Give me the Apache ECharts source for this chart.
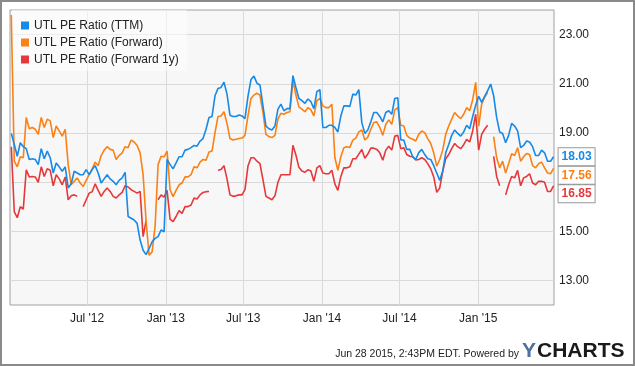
<!DOCTYPE html>
<html><head><meta charset="utf-8">
<script src="https://cdn.jsdelivr.net/npm/echarts@6/dist/echarts.min.js"></script>
<style>html,body{margin:0;padding:0;background:#fff}#c{width:635px;height:366px}</style>
</head><body><div id="c"></div>
<script>
// Weekly observations, first one on 2012-01-06
const firstWeek = '2012-01-06';
const seriesNames = ['UTL PE Ratio (TTM)', 'UTL PE Ratio (Forward)', 'UTL PE Ratio (Forward 1y)'];

const ttm = [18.98,18.53,18.05,18.6,18.44,18.36,17.92,17.95,17.92,17.71,
18.36,17.95,18.26,17.99,17.37,17.78,17.62,17.44,17.62,16.76,
16.93,17.44,17.37,17.3,17.3,17.51,17.3,17.51,17.67,17.37,
16.96,17.13,17.3,17.13,17.03,16.89,17.07,17.17,17.4,15.6,
15.53,15.46,15.32,14.64,14.23,14.05,14.3,14.57,14.71,14.78,
15.05,14.98,17.92,17.71,17.54,17.78,18.03,18.03,18.3,18.33,
18.4,18.49,18.46,18.67,18.77,19.15,19.63,19.67,20.51,20.81,
20.85,21.06,20.58,19.72,19.67,19.67,19.73,19.69,19.58,20.49,
21.17,21.31,21.02,20.95,20.1,19.28,19.17,19.12,19.28,19.97,
20.17,19.9,19.99,19.99,21.33,20.85,20.4,20.31,20.2,20.38,
20.27,19.99,20.68,20.76,19.22,19.22,19.31,19.31,19.22,19.04,
19.69,20.1,20.1,20.08,20.58,20.54,20.76,19.42,18.98,19.12,
19.45,19.83,19.83,19.67,19.45,19.83,19.9,19.76,20.4,20.43,
18.71,18.71,18.33,18.33,18.03,17.92,18.2,18.33,18.12,17.95,
17.92,17.67,17.37,17.07,17.44,18.19,18.53,18.9,19.12,18.98,
18.87,19.04,19.31,19.17,19.67,20.13,20.49,20.24,20.49,20.72,
20.99,20.51,19.63,19.04,18.98,18.6,18.9,19.39,19.28,19.08,
18.4,18.49,18.67,18.63,18.44,18.08,18.08,18.3,18.19,17.85,
17.85,18.03];

const forward = [23.8,17.85,17.62,18.03,17.99,19.63,19.17,19.22,19.15,18.94,
19.63,19.22,19.56,19.49,18.81,19.28,19.08,18.87,19.15,17.7,
16.9,17.03,17.17,16.96,16.82,17.07,17.3,17.54,17.81,17.67,
18.08,18.3,18.44,18.33,18.3,17.92,18.08,18.19,18.44,18.4,
18.71,18.63,18.49,18.19,17.3,15.4,14.02,14.16,15.2,17.71,
18.05,18.03,18.26,16.69,16.41,16.66,16.89,16.96,17.21,17.21,
17.3,17.62,17.58,17.81,17.92,17.89,18.22,18.26,19.01,19.67,
19.69,19.86,19.39,18.77,18.71,18.74,18.77,18.79,18.9,19.69,
20.4,20.54,20.62,20.54,19.83,18.94,18.85,18.81,18.9,19.56,
19.8,19.76,19.83,19.86,21.13,20.54,20.06,19.97,19.86,20.03,
19.94,19.69,20.31,20.4,20.1,20.03,20.03,20.17,18.0,17.48,
18.03,18.4,18.44,18.41,18.71,18.79,19.04,19.12,18.71,18.83,
19.15,19.42,19.45,19.22,18.9,19.35,19.53,19.35,19.94,20.03,
19.31,19.28,18.9,18.79,18.74,18.67,18.94,19.08,19.01,18.77,
18.57,18.19,17.65,17.92,18.3,18.94,19.28,19.56,19.83,19.69,
19.58,19.76,20.03,19.9,20.35,21.06,19.28,20.17,20.45,20.65,
null,18.85,17.99,17.58,17.85,17.37,17.75,18.15,18.08,18.4,
17.85,18.03,18.16,18.12,17.67,17.58,17.75,17.81,17.58,17.37,
17.34,17.56];

const forward1y = [18.44,15.8,15.55,16.0,15.9,17.5,17.21,17.23,17.21,16.99,
17.62,17.23,17.54,17.48,16.85,17.3,17.13,16.89,17.21,16.28,
16.44,16.48,16.42,null,16.0,16.28,16.55,16.61,16.93,16.66,
16.42,16.62,16.76,16.62,16.42,16.35,16.48,16.58,16.85,16.8,
16.69,16.62,16.55,16.62,14.78,15.43,null,null,null,16.28,
16.48,16.39,16.66,15.49,15.39,15.6,15.84,15.73,16.0,16.0,
16.07,16.35,16.31,16.48,16.58,16.61,16.62,null,null,17.48,
17.51,17.67,17.13,16.48,16.42,16.44,16.48,16.48,16.69,17.65,
17.99,17.99,17.85,17.75,17.1,16.42,16.35,16.28,16.44,16.99,
17.3,17.3,17.3,17.3,18.5,18.1,17.6,17.45,17.4,17.5,
17.45,17.03,17.58,17.67,17.37,17.34,17.34,17.48,16.93,16.66,
17.23,17.58,17.58,17.62,17.95,17.95,18.14,18.33,17.97,18.14,
18.38,18.38,18.33,18.19,17.89,18.3,18.46,18.3,18.87,18.9,
18.36,18.4,18.12,18.05,18.03,17.9,17.92,17.99,17.92,17.75,
17.54,17.21,16.58,16.76,17.44,17.95,18.12,18.36,18.57,18.44,
18.36,18.52,18.74,18.63,19.08,19.76,18.3,18.94,19.15,19.31,
null,18.05,17.23,16.85,null,16.48,16.89,17.23,17.17,17.48,
16.85,17.17,17.23,17.34,16.96,16.89,17.03,17.03,16.99,16.62,
16.62,16.85];

const xTickDates = ['2012-07-01','2013-01-01','2013-07-01','2014-01-01','2014-07-01','2015-01-01'];
const xTickLabels = ["Jul '12","Jan '13","Jul '13","Jan '14","Jul '14","Jan '15"];
const xRange = ['2012-01-03', '2015-06-27'];
const yTickValues = [13,15,17,19,21,23];
const yTickLabels = ['13.00','15.00','17.00','19.00','21.00','23.00'];

const DAY = 86400000;
const ts = s => { const p = s.split('-').map(Number); return Date.UTC(p[0], p[1]-1, p[2]); };
const t0 = ts(firstWeek);
const dates = ttm.map((_, i) => t0 + i*7*DAY);
const pairs = arr => dates.map((d,i) => [d, arr[i] == null ? '-' : arr[i]]);
const xTickTs = xTickDates.map(ts);

const colors = ['#1789e6', '#fb8114', '#e5383b'];
const offsets = [[0,0],[0,7],[0,8]];
const valueSets = [ttm, forward, forward1y];

const chart = echarts.init(document.getElementById('c'), null, {renderer:'canvas'});
const series = valueSets.map((vals, k) => ({
  name: seriesNames[k],
  type: 'line',
  data: pairs(vals),
  showSymbol: false,
  symbol: 'none',
  connectNulls: false,
  color: colors[k],
  lineStyle: {width: 1.6, color: colors[k]},
  z: 3 + (2 - k),
  endLabel: {
    show: true,
    formatter: p => Number(p.value[1]).toFixed(2),
    color: colors[k],
    fontWeight: 'bold',
    fontSize: 12,
    fontFamily: 'Liberation Sans, Arial, sans-serif',
    backgroundColor: '#fff',
    borderColor: '#999',
    borderWidth: 1,
    padding: [3, 3, 2, 3],
    distance: 5,
    offset: offsets[k]
  }
}));
series[0].markLine = {
  silent: true,
  z: 1,
  symbol: ['none','none'],
  label: {show: false},
  emphasis: {disabled: true},
  lineStyle: {color: '#dadada', type: 'solid', width: 1},
  data: xTickTs.map(d => ({xAxis: d}))
};

chart.setOption({
  animation: false,
  backgroundColor: '#fff',
  textStyle: {fontFamily: 'Liberation Sans, Arial, sans-serif'},
  grid: {left: 10, top: 10, right: 81, bottom: 61, show: true, backgroundColor: '#f7f7f7', borderColor: '#a0a0a0', borderWidth: 1},
  legend: {
    orient: 'vertical', left: 12, top: 10,
    data: seriesNames,
    icon: 'rect', itemWidth: 8, itemHeight: 8, itemGap: 0,
    padding: [7, 8, 3, 9],
    backgroundColor: 'rgba(255,255,255,0.55)',
    textStyle: {fontSize: 12, lineHeight: 17, color: '#222', fontFamily: 'Liberation Sans, Arial, sans-serif'},
    selectedMode: false
  },
  xAxis: {
    type: 'value',
    min: ts(xRange[0]), max: ts(xRange[1]),
    axisLine: {show: false}, axisTick: {show: false},
    splitLine: {show: false},
    axisLabel: {
      customValues: xTickTs,
      formatter: (v) => { const i = xTickTs.indexOf(v); return i >= 0 ? xTickLabels[i] : ''; },
      color: '#222', fontSize: 12, margin: 8
    }
  },
  yAxis: {
    type: 'value', position: 'right',
    min: 12, max: 24, interval: 1,
    axisLine: {show: false}, axisTick: {show: false},
    splitLine: {show: true, lineStyle: {color: ['rgba(0,0,0,0)', '#dadada'], width: 1}},
    axisLabel: {
      formatter: v => { const i = yTickValues.indexOf(Math.round(v)); return i >= 0 ? yTickLabels[i] : ''; },
      color: '#222', fontSize: 12, margin: 5
    }
  },
  graphic: [
    {type: 'rect', silent: true, z: 100, shape: {x: 1, y: 1, width: 633, height: 364}, style: {fill: 'none', stroke: '#8a8a8a', lineWidth: 2}},
    {type: 'text', silent: true, z: 100, x: 519, y: 354, style: {text: 'Jun 28 2015, 2:43PM EDT. Powered by', fill: '#222', font: '10.5px "Liberation Sans", Arial, sans-serif', textAlign: 'right', textVerticalAlign: 'middle'}},
    {type: 'text', silent: true, z: 100, x: 522, y: 351, style: {text: 'Y', fill: '#4f6f9c', font: 'bold 21px "Liberation Sans", Arial, sans-serif', textAlign: 'left', textVerticalAlign: 'middle'}},
    {type: 'text', silent: true, z: 100, x: 537, y: 351, style: {text: 'CHARTS', fill: '#1a1a1a', font: 'bold 21px "Liberation Sans", Arial, sans-serif', textAlign: 'left', textVerticalAlign: 'middle'}}
  ],
  series: series
});
</script></body></html>
